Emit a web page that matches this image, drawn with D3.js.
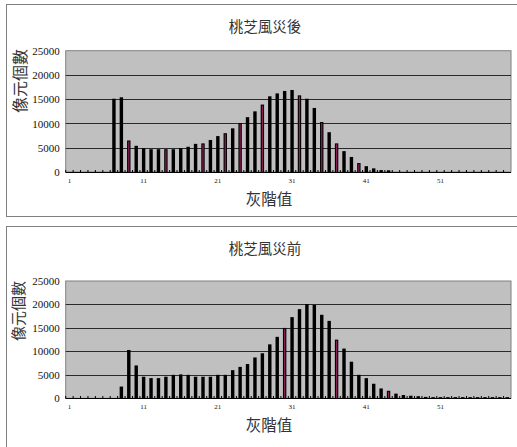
<!DOCTYPE html>
<html>
<head>
<meta charset="utf-8">
<script src="https://cdn.jsdelivr.net/npm/d3@7"></script>
<style>
  body { margin: 0; background: #fff; }
  svg { display: block; }
</style>
</head>
<body>
<svg id="chart"></svg>
<script>
"use strict";

// gray levels 1..60
const categories = [
  1, 2, 3, 4, 5, 6, 7, 8, 9, 10, 11, 12, 13, 14, 15, 16, 17, 18, 19, 20,
  21, 22, 23, 24, 25, 26, 27, 28, 29, 30, 31, 32, 33, 34, 35, 36, 37, 38, 39, 40,
  41, 42, 43, 44, 45, 46, 47, 48, 49, 50, 51, 52, 53, 54, 55, 56, 57, 58, 59, 60
];

// pixel counts after the typhoon
const afterValues = [
  0, 0, 0, 0, 0, 0, 15100, 15400, 6500, 5400,
  4900, 4700, 4700, 4700, 4700, 4900, 5200, 5800, 5900, 6600,
  7400, 8000, 9000, 10100, 11300, 12500, 13900, 15600, 16200, 16700,
  16900, 15800, 15100, 13200, 10300, 8200, 5900, 4300, 3100, 1850,
  1200, 750, 400, 350, 0, 0, 0, 0, 0, 0,
  0, 0, 0, 0, 0, 0, 0, 0, 0, 0
];

// pixel counts before the typhoon
const beforeValues = [
  0, 0, 0, 0, 0, 0, 0, 2500, 10300, 7000,
  4600, 4300, 4300, 4600, 5000, 5100, 5000, 4600, 4600, 4600,
  5000, 5000, 6000, 6700, 7300, 8700, 9600, 11500, 13100, 15000,
  17300, 19000, 20100, 19900, 17800, 16500, 12500, 10600, 7800, 5000,
  4300, 3100, 2100, 1600, 1000, 700, 550, 450, 300, 250,
  250, 250, 250, 250, 250, 250, 250, 250, 250, 250
];

// bars that show a purple core in the scan
const afterPurple = [9, 14, 19, 22, 24, 27, 32, 35, 37, 40];
const beforePurple = [30, 37, 44];

const yTicks = [0, 5000, 10000, 15000, 20000, 25000];
const xTickLabels = [1, 11, 21, 31, 41, 51];

const width = 517;
const height = 447;
const cjk = "'Noto Sans CJK TC', 'Noto Sans CJK SC', sans-serif";
const serif = "'Liberation Serif', 'DejaVu Serif', serif";

const svg = d3.select("#chart").attr("width", width).attr("height", height);

function drawPanel(p) {
  const g = svg.append("g");

  // outer frame (runs off the right edge like the scan)
  g.append("rect")
    .attr("x", 6.5).attr("y", p.frameTop + 0.5)
    .attr("width", 530).attr("height", p.frameH)
    .attr("fill", "#fff").attr("stroke", "#808080");

  const x = d3.scaleBand()
    .domain(categories)
    .range([65.7, 511])
    .padding(0);

  const y = d3.scaleLinear()
    .domain([0, 25000])
    .range([p.y0, p.y1]);

  // plot area
  g.append("rect")
    .attr("x", 65.7).attr("y", p.y1)
    .attr("width", 511 - 65.7).attr("height", p.y0 - p.y1)
    .attr("fill", "#c0c0c0").attr("stroke", "#808080");

  // grid lines
  g.append("g")
    .selectAll("line")
    .data(yTicks.filter((d) => d > 0 && d < 25000))
    .join("line")
    .attr("x1", 65.7).attr("x2", 511)
    .attr("y1", (d) => Math.round(y(d)) + 0.5)
    .attr("y2", (d) => Math.round(y(d)) + 0.5)
    .attr("stroke", "#2a2a2a");

  // y axis labels
  const yaxis = d3.axisLeft(y)
    .tickValues(yTicks)
    .tickFormat(d3.format("d"))
    .tickSize(0)
    .tickPadding(6);
  g.append("g")
    .attr("transform", "translate(65.7,0)")
    .call(yaxis)
    .call((a) => a.select(".domain").remove())
    .selectAll("text")
    .attr("font-family", serif)
    .attr("font-size", 11)
    .attr("fill", "#111");

  // bars
  const bw = x.bandwidth() * 0.46;
  const rows = categories.map((c, i) => ({ c, v: p.values[i] }));
  g.append("g")
    .selectAll("rect")
    .data(rows.filter((d) => d.v > 0))
    .join("rect")
    .attr("x", (d) => x(d.c) + (x.bandwidth() - bw) / 2)
    .attr("y", (d) => y(d.v))
    .attr("width", bw)
    .attr("height", (d) => y(0) - y(d.v))
    .attr("fill", "#000");

  // purple cores
  g.append("g")
    .selectAll("rect")
    .data(rows.filter((d) => p.purple.includes(d.c)))
    .join("rect")
    .attr("x", (d) => x(d.c) + x.bandwidth() / 2 - 0.6)
    .attr("y", (d) => y(d.v) + 1)
    .attr("width", 1.2)
    .attr("height", (d) => Math.max(0, y(0) - y(d.v) - 1))
    .attr("fill", "#8a2058");

  // x axis line + tick marks at category boundaries
  const base = Math.round(y(0)) + 0.5;
  g.append("line")
    .attr("x1", 65.7).attr("x2", 511)
    .attr("y1", base).attr("y2", base)
    .attr("stroke", "#000");

  g.append("g")
    .selectAll("line")
    .data(categories)
    .join("line")
    .attr("x1", (d) => x(d)).attr("x2", (d) => x(d))
    .attr("y1", base).attr("y2", base - 2.5)
    .attr("stroke", "#000");

  // x tick labels at category centers
  g.append("g")
    .selectAll("text")
    .data(xTickLabels)
    .join("text")
    .attr("x", (d) => x(d) + x.bandwidth() / 2)
    .attr("y", base + 10.5)
    .attr("text-anchor", "middle")
    .attr("font-family", serif)
    .attr("font-size", 7)
    .attr("fill", "#111")
    .text((d) => d);

  // titles
  g.append("text")
    .attr("x", 265).attr("y", p.titleY)
    .attr("text-anchor", "middle")
    .attr("dominant-baseline", "central")
    .attr("font-family", cjk)
    .attr("font-size", 14.5)
    .attr("fill", "#333")
    .text(p.title);

  g.append("text")
    .attr("x", 269).attr("y", p.xTitleY)
    .attr("text-anchor", "middle")
    .attr("dominant-baseline", "central")
    .attr("font-family", cjk)
    .attr("font-size", 15.5)
    .attr("fill", "#333")
    .text("灰階值");

  g.append("text")
    .attr("transform", `translate(${p.yTitleX},${p.yTitleY}) rotate(-90)`)
    .attr("text-anchor", "middle")
    .attr("dominant-baseline", "central")
    .attr("font-family", cjk)
    .attr("font-size", p.yTitleSize)
    .attr("fill", "#333")
    .text("像元個數");
}

drawPanel({
  title: "桃芝風災後",
  values: afterValues,
  purple: afterPurple,
  frameTop: 4, frameH: 212,
  y0: 172, y1: 50.7,
  titleY: 25, xTitleY: 197.5,
  yTitleX: 19, yTitleY: 81, yTitleSize: 16
});

drawPanel({
  title: "桃芝風災前",
  values: beforeValues,
  purple: beforePurple,
  frameTop: 226, frameH: 240,
  y0: 398.3, y1: 281,
  titleY: 247, xTitleY: 423.5,
  yTitleX: 17, yTitleY: 311, yTitleSize: 15
});
</script>
</body>
</html>
